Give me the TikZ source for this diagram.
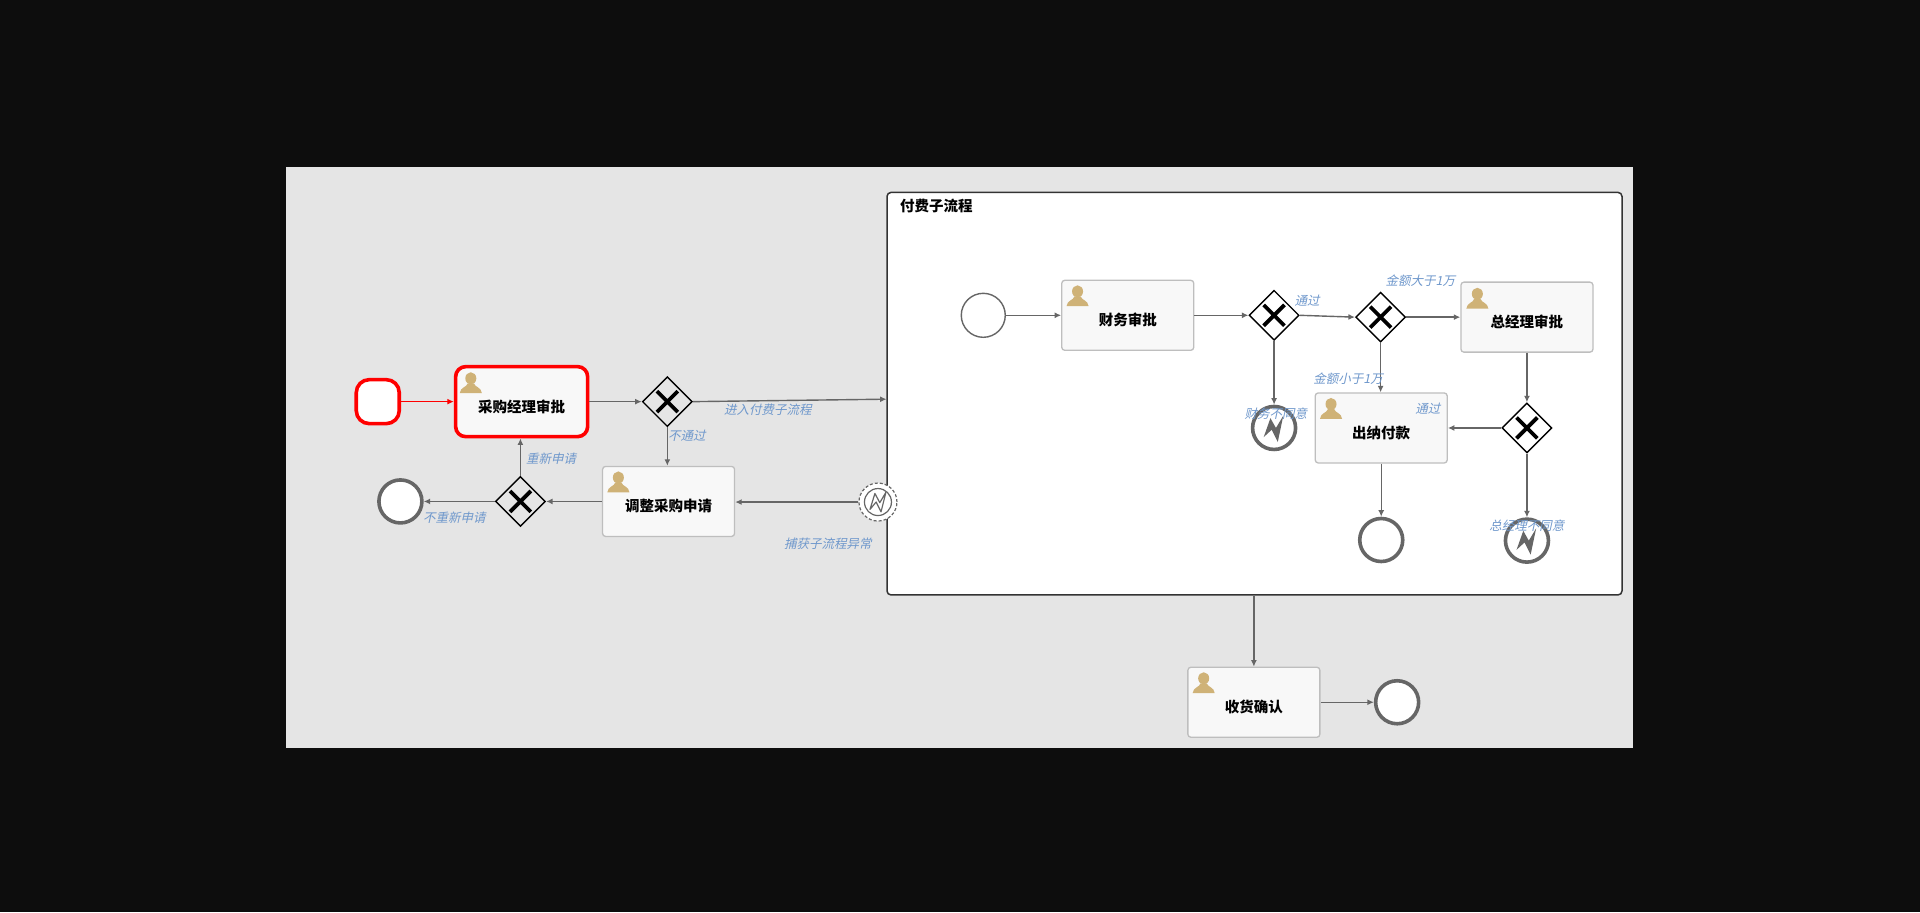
\documentclass[tikz,border=0pt]{standalone}
\usepackage{fontspec}
\setmainfont{Noto Sans CJK SC}
\newfontfamily\lablfont[FakeSlant=0.22]{Noto Sans CJK SC}
\usetikzlibrary{shapes.geometric,arrows.meta}
\definecolor{pagebg}{HTML}{0D0D0D}
\definecolor{canvasbg}{HTML}{E5E5E5}
\definecolor{taskfill}{HTML}{F8F8F8}
\definecolor{taskline}{HTML}{BEBEBE}
\definecolor{flowline}{HTML}{666666}
\definecolor{lablblue}{HTML}{6F98CC}
\definecolor{iconcol}{HTML}{CFB277}
\tikzset{
  taskbox/.style={rectangle,rounded corners=3pt,draw=taskline,line width=1.3pt,fill=taskfill,
    minimum width=132pt,minimum height=70pt,inner sep=0pt},
  redtask/.style={taskbox,draw=red,line width=3.6pt,rounded corners=10pt},
  tasktext/.style={font=\bfseries\fontsize{14.5}{16}\selectfont,text=black},
  gateway/.style={diamond,aspect=1,draw=black,line width=1.4pt,minimum width=50pt,minimum height=50pt,inner sep=0pt},
  plainend/.style={circle,draw=flowline,line width=3.6pt,fill=white,minimum size=43pt,inner sep=0pt},
  plainstart/.style={circle,draw=flowline,line width=1.4pt,fill=white,minimum size=44pt,inner sep=0pt},
  redstart/.style={rectangle,rounded corners=13pt,draw=red,line width=3.6pt,fill=white,minimum width=43pt,minimum height=44pt,inner sep=0pt},
  boundary/.style={circle,draw=flowline,dash pattern=on 3pt off 2pt,line width=1.2pt,fill=white,minimum size=38pt,inner sep=0pt},
  flow/.style={draw=flowline,line width=1.4pt,-{Latex[length=6.5pt,width=6pt]}},
  redflow/.style={draw=red,line width=1.6pt,-{Latex[length=6.5pt,width=6pt]}},
  lbl/.style={font=\lablfont\fontsize{12.5}{14}\selectfont,text=lablblue,inner sep=0pt},
  gwx/.pic={\draw[black,line width=3.8pt] (-8.5,-8.5)--(8.5,8.5) (-8.5,8.5)--(8.5,-8.5);},
  usericon/.pic={\fill[iconcol] (0,-3.5) ellipse (4.5 and 5);
    \fill[iconcol] (-9,8.5) .. controls (-8.5,3.5) and (-3.5,4) .. (-2.5,0.5) -- (2.5,0.5) .. controls (3.5,4) and (8.5,3.5) .. (9,8.5) -- cycle;},
  errbolt/.pic={\fill[flowline] (-8.5,7.5) -- (-3,-8) -- (1.5,0) -- (7.5,-10) -- (3,11.5) -- (-2,1.5) -- cycle;},
  errboltline/.pic={\draw[flowline,line width=1.2pt,line join=round] (-6.5,6) -- (-2.5,-7) -- (1.5,0.5) -- (6.5,-8) -- (2.5,8) -- (-1.5,0) -- cycle;}
}
\begin{document}
\begin{tikzpicture}[x=1.22449pt,y=-1.22449pt]
\useasboundingbox (0,0) rectangle (1568,744.8);
\fill[pagebg] (0,0) rectangle (1568,744.8);
\fill[canvasbg] (233.8,136) rectangle (1334,611);

% subprocess
\node[rectangle,rounded corners=4pt,draw=black!80,line width=1.5pt,fill=white,inner sep=0pt,
  minimum width=735pt,minimum height=402.5pt] (sub) at (1024.5,321.5) {};
\coordinate (subin) at (724,326);
\node[font=\bfseries\fontsize{14.5}{16}\selectfont,anchor=west,inner sep=0pt] (subtitle) at (735,168) {付费子流程};

% main lane
\node[redstart] (start) at (308.5,328) {};
\node[redtask,label={[tasktext,yshift=-5pt]center:采购经理审批}] (t1) at (426,328) {};
\node[gateway] (g1) at (545,328) {};
\node[taskbox,label={[tasktext,yshift=-5pt]center:调整采购申请}] (adj) at (546,409.5) {};
\node[gateway] (g2) at (425,409.5) {};
\node[plainend] (e1) at (327,409.5) {};
\node[boundary] (bd) at (717,410) {};
\node[circle,draw=flowline,line width=1.2pt,minimum size=27pt,inner sep=0pt] (bdin) at (717,410) {};

% sub lane
\node[plainstart] (s2) at (803,257.5) {};
\node[taskbox,label={[tasktext,yshift=-5pt]center:财务审批}] (fin) at (921,257.5) {};
\node[gateway] (g3) at (1040.5,257.5) {};
\node[gateway] (g4) at (1127.5,259) {};
\node[taskbox,label={[tasktext,yshift=-5pt]center:总经理审批}] (gm) at (1247,259) {};
\node[gateway] (g5) at (1247,349.5) {};
\node[taskbox,label={[tasktext,yshift=-5pt]center:出纳付款}] (cash) at (1128,349.5) {};
\node[plainend] (err1) at (1040.5,349.5) {};
\node[plainend] (e2) at (1128,441) {};
\node[plainend] (err2) at (1247,441.5) {};

% bottom
\node[taskbox,label={[tasktext,yshift=-5pt]center:收货确认}] (recv) at (1024,573.5) {};
\node[plainend] (e3) at (1141,573.5) {};

% icons
\pic at (g1) {gwx};
\pic at (g2) {gwx};
\pic at (g3) {gwx};
\pic at (g4) {gwx};
\pic at (g5) {gwx};
\pic at (384.5,312.5) {usericon};
\pic at (505,393.5) {usericon};
\pic at (880,241.5) {usericon};
\pic at (1206.5,243.5) {usericon};
\pic at (1087,333.5) {usericon};
\pic at (983,557.5) {usericon};
\pic at (err1) {errbolt};
\pic at (err2) {errbolt};
\pic at (bd) {errboltline};

% connectors
\draw[redflow] (start.east) -- (t1.west);
\draw[flow] (t1.east) -- (g1.west);
\draw[flow] (g1.east) -- (subin);
\draw[flow] (g1.south) -- (adj.north -| g1.south);
\draw[flow] (adj.west) -- (g2.east);
\draw[flow] (g2.north) -- (t1.south -| g2.north);
\draw[flow] (g2.west) -- (e1.east);
\draw[flow] (bd.west) -- (adj.east |- bd.west);
\draw[flow] (s2.east) -- (fin.west);
\draw[flow] (fin.east) -- (g3.west);
\draw[flow] (g3.east) -- (g4.west);
\draw[flow] (g3.south) -- (err1.north);
\draw[flow] (g4.east) -- (gm.west);
\draw[flow] (g4.south) -- (cash.north -| g4.south);
\draw[flow] (gm.south) -- (g5.north);
\draw[flow] (g5.west) -- (cash.east);
\draw[flow] (g5.south) -- (err2.north);
\draw[flow] (cash.south) -- (e2.north);
\draw[flow] (sub.south -| recv.north) -- (recv.north);
\draw[flow] (recv.east) -- (e3.west);

% labels
\node[lbl] (l1) at (627,335) {进入付费子流程};
\node[lbl] (l2) at (561,355.5) {不通过};
\node[lbl] (l3) at (450,375) {重新申请};
\node[lbl] (l4) at (371,423) {不重新申请};
\node[lbl] (l5) at (676,444) {捕获子流程异常};
\node[lbl] (l6) at (1067.5,245.5) {通过};
\node[lbl] (l7) at (1160,229.5) {金额大于1万};
\node[lbl] (l8) at (1101,309) {金额小于1万};
\node[lbl] (l9) at (1166,333.5) {通过};
\node[lbl] (l10) at (1042,337.5) {财务不同意};
\node[lbl] (l11) at (1247,429) {总经理不同意};
\end{tikzpicture}
\end{document}
